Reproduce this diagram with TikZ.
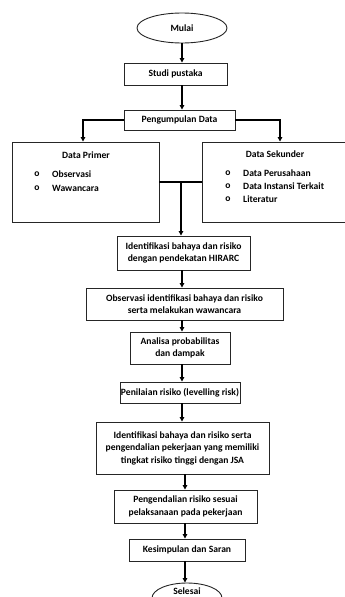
\documentclass[tikz,border=0pt]{standalone}
\usepackage{fontspec}
\setmainfont{Carlito}
\usetikzlibrary{shapes.geometric,arrows.meta}
\tikzset{
  box/.style={draw=black!85, line width=0.9pt, rectangle, align=center, inner sep=1pt,
    font=\fontsize{9.6}{12.5}\selectfont\bfseries},
  oval/.style={draw=black!85, line width=0.9pt, ellipse, inner sep=0pt,
    font=\fontsize{9.6}{12.5}\selectfont\bfseries},
  txt/.style={inner sep=0pt, font=\fontsize{9.6}{12.5}\selectfont\bfseries},
  arr/.style={line width=1.2pt, -{Triangle[length=4.5pt,width=4.5pt]}},
  ln/.style={line width=1.2pt}
}
\begin{document}
\begin{tikzpicture}[x=1pt,y=-1pt]
\useasboundingbox (0,0) rectangle (345,597);
\begin{scope}
\clip (0,0) rectangle (345,597);
\coordinate (cA) at (182,0);
\coordinate (cB) at (185,0);

\node[oval, minimum width=90pt, minimum height=30pt] (mulai) at (182,28) {Mulai};
\node[box, minimum width=103pt, minimum height=22pt] (studi) at (175.5,74) {Studi pustaka};
\node[box, minimum width=111pt, minimum height=20pt] (kumpul) at (179.5,120) {Pengumpulan Data};

\node[box, minimum width=147pt, minimum height=80pt] (primer) at (85.5,182) {};
\node[box, minimum width=145pt, minimum height=80pt] (sekunder) at (274.5,182) {};

\node[txt] (tprimer) at (86,155) {Data Primer};
\node[txt, anchor=center] (bp1) at (37,174) {o};
\node[txt, anchor=center] (bp2) at (37,188) {o};
\node[txt, anchor=west] (p1) at (52,174) {Observasi};
\node[txt, anchor=west] (p2) at (52,188) {Wawancara};

\node[txt] (tsekunder) at (275,154) {Data Sekunder};
\node[txt, anchor=center] (bs1) at (228,173.5) {o};
\node[txt, anchor=center] (bs2) at (228,186.5) {o};
\node[txt, anchor=center] (bs3) at (228,199.5) {o};
\node[txt, anchor=west] (s1) at (243,173.5) {Data Perusahaan};
\node[txt, anchor=west] (s2) at (243,186.5) {Data Instansi Terkait};
\node[txt, anchor=west] (s3) at (243,199.5) {Literatur};

\node[box, minimum width=133pt, minimum height=34pt] (ident) at (183.5,253)
  {Identifikasi bahaya dan risiko\\dengan pendekatan HIRARC};
\node[box, minimum width=197pt, minimum height=32pt] (observ) at (184.5,304)
  {Observasi identifikasi bahaya dan risiko\\serta melakukan wawancara};
\node[box, minimum width=100pt, minimum height=32pt] (analisa) at (180,348)
  {Analisa probabilitas\\dan dampak};
\node[box, minimum width=114pt, minimum height=21pt] (nilai) at (180,392.5)
  {Penilaian risiko (levelling risk)};
\node[box, minimum width=173pt, minimum height=52pt] (jsa) at (182.5,448)
  {Identifikasi bahaya dan risiko serta\\pengendalian pekerjaan yang memiliki\\tingkat risiko tinggi dengan JSA};
\node[box, minimum width=143pt, minimum height=33pt] (kendali) at (185.5,506.5)
  {Pengendalian risiko sesuai\\pelaksanaan pada pekerjaan};
\node[box, minimum width=116pt, minimum height=22pt] (simpul) at (187,550)
  {Kesimpulan dan Saran};
\node[oval, minimum width=70pt, minimum height=30pt] (selesai) at (187,598) {};
\node[txt] (tselesai) at (187,591) {Selesai};

\coordinate (mergeL) at (primer.east |- 0,182);
\coordinate (join) at (181,182);

\draw[arr] (mulai.south -| cA) -- (studi.north -| cA);
\draw[arr] (studi.south -| cA) -- (kumpul.north -| cA);
\draw[arr] (kumpul.west) -| (primer.north -| 83,0);
\draw[arr] (kumpul.east) -| (sekunder.north -| 280,0);
\draw[ln] (primer.east |- join) -- (sekunder.west |- join);
\draw[arr] (join) -- (ident.north -| join);
\draw[arr] (ident.south -| cA) -- (observ.north -| cA);
\draw[arr] (observ.south -| cA) -- (analisa.north -| cA);
\draw[arr] (analisa.south -| cA) -- (nilai.north -| cA);
\draw[arr] (nilai.south -| cA) -- (jsa.north -| cA);
\draw[arr] (jsa.south -| cB) -- (kendali.north -| cB);
\draw[arr] (kendali.south -| cB) -- (simpul.north -| cB);
\draw[arr] (simpul.south -| cB) -- (selesai.north -| cB);
\end{scope}
\end{tikzpicture}
\end{document}
